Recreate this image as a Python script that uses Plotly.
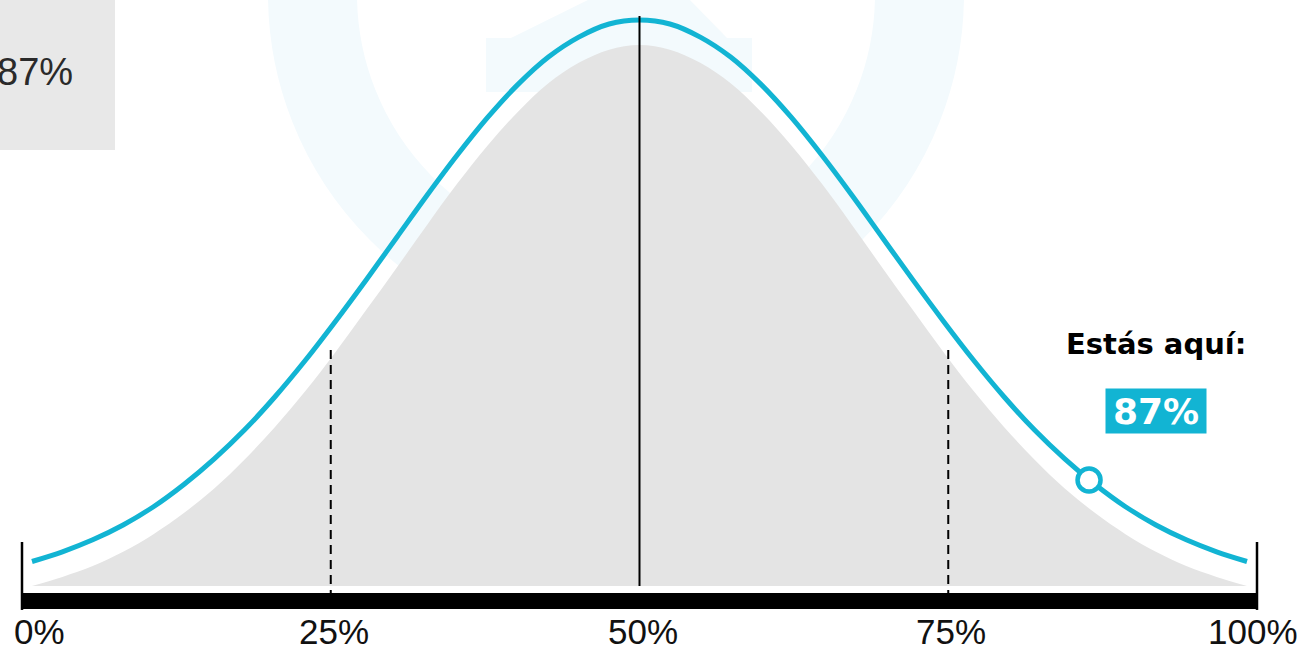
import plotly.graph_objects as go

# ---- data ----
curve_x = [i * 2.5 for i in range(41)]
curve_y = [0.043, 0.060, 0.081, 0.107, 0.139, 0.178, 0.223, 0.274, 0.332, 0.396, 0.465,
           0.537, 0.611, 0.685, 0.756, 0.822, 0.880, 0.928, 0.963, 0.986, 0.993,
           0.986, 0.963, 0.928, 0.880, 0.822, 0.756, 0.685, 0.611, 0.537, 0.465,
           0.396, 0.332, 0.274, 0.223, 0.178, 0.139, 0.107, 0.081, 0.060, 0.043]
fill_y = [0.0, 0.016, 0.035, 0.060, 0.091, 0.128, 0.171, 0.222, 0.279, 0.342, 0.411,
          0.484, 0.558, 0.633, 0.706, 0.773, 0.832, 0.882, 0.918, 0.941, 0.949,
          0.941, 0.918, 0.882, 0.832, 0.773, 0.706, 0.633, 0.558, 0.484, 0.411,
          0.342, 0.279, 0.222, 0.171, 0.128, 0.091, 0.060, 0.035, 0.016, 0.0]
tick_vals = [0, 25, 50, 75, 100]
tick_labels = ["0%", "25%", "50%", "75%", "100%"]
quartiles = [25, 75]
median = 50
you_pct = 87
you_y = 0.186
you_label = "87%"
here_text = "Estás aquí:"

BLUE = "#12b4d3"
WM = "#f3fafd"
W, H = 1305, 650


def px(x):
    return x / W


def py(y):
    return 1 - y / H


fig = go.Figure()

# gray distribution area
fig.add_trace(go.Scatter(x=curve_x, y=fill_y, xaxis="x2", yaxis="y", mode="lines",
                         line=dict(width=0, shape="spline", color="#e4e4e4"),
                         fill="tozeroy", fillcolor="#e4e4e4", hoverinfo="skip"))
# blue curve
fig.add_trace(go.Scatter(x=curve_x, y=curve_y, xaxis="x2", yaxis="y", mode="lines",
                         line=dict(width=5, shape="spline", color=BLUE), hoverinfo="skip"))

shapes = []
# faint watermark (ring + house)
shapes.append(dict(type="circle", xref="paper", yref="paper",
                   x0=px(616 - 303.5), x1=px(616 + 303.5),
                   y0=py(-6 + 303.5), y1=py(-6 - 303.5),
                   line=dict(color=WM, width=89), layer="below"))
shapes.append(dict(type="rect", xref="paper", yref="paper", x0=px(486), x1=px(752),
                   y0=py(92), y1=py(38), fillcolor=WM, line=dict(width=0), layer="below"))
shapes.append(dict(type="path", xref="paper", yref="paper",
                   path=f"M {px(511)} {py(38)} L {px(727)} {py(38)} L {px(685)} {py(-5)} "
                        f"L {px(598)} {py(-5)} Z",
                   fillcolor=WM, line=dict(width=0), layer="below"))
# baseline bar
shapes.append(dict(type="rect", xref="x", yref="y", x0=tick_vals[0], x1=tick_vals[-1],
                   y0=-0.0404, y1=-0.0123, fillcolor="black", line=dict(width=0), layer="above"))
# end ticks
for v in (tick_vals[0], tick_vals[-1]):
    shapes.append(dict(type="line", xref="x", yref="y", x0=v, x1=v, y0=0.0772, y1=-0.042,
                       line=dict(color="black", width=2.5), layer="above"))
# quartile dashed lines
for q in quartiles:
    shapes.append(dict(type="line", xref="x", yref="y", x0=q, x1=q, y0=0.414, y1=-0.013,
                       line=dict(color="black", width=2, dash="9px,6px"), layer="above"))
# median line
shapes.append(dict(type="line", xref="x", yref="y", x0=median, x1=median, y0=1.0, y1=0.0,
                   line=dict(color="black", width=2), layer="above"))
# top-left gray box
shapes.append(dict(type="rect", xref="paper", yref="paper", x0=0, x1=px(115),
                   y0=py(150), y1=1, fillcolor="#e8e8e8", line=dict(width=0), layer="below"))

# marker
fig.add_trace(go.Scatter(x=[you_pct], y=[you_y], xaxis="x2", yaxis="y", mode="markers",
                         marker=dict(size=23, color="white", line=dict(color=BLUE, width=4.5)),
                         hoverinfo="skip"))

annotations = []
n = len(tick_vals)
for i, (v, t) in enumerate(zip(tick_vals, tick_labels)):
    if i == 0:
        anchor, shift = "left", -10
    elif i == n - 1:
        anchor, shift = "right", 43
    else:
        anchor, shift = "center", 3
    annotations.append(dict(x=v, y=-0.0795, xref="x", yref="y", text=t, showarrow=False,
                            xanchor=anchor, yanchor="middle", xshift=shift,
                            font=dict(family="Liberation Sans, Arial", size=35, color="#111111")))

annotations.append(dict(x=px(1155.5), y=py(344), xref="paper", yref="paper",
                        text="<b>" + here_text + "</b>", showarrow=False,
                        xanchor="center", yanchor="middle",
                        font=dict(family="DejaVu Sans", size=29, color="black")))
annotations.append(dict(x=px(1156), y=py(411), xref="paper", yref="paper",
                        text="<b>" + you_label + "</b>", showarrow=False,
                        xanchor="center", yanchor="middle", bgcolor=BLUE,
                        width=92, height=36, borderpad=4,
                        font=dict(family="DejaVu Sans", size=36, color="white")))
annotations.append(dict(x=px(75), y=py(72), xref="paper", yref="paper",
                        text=you_label, showarrow=False, xanchor="right", yanchor="middle",
                        font=dict(family="Liberation Sans, Arial", size=38, color="#2a2a2a")))

axis_common = dict(showgrid=False, zeroline=False, showticklabels=False, showline=False,
                   ticks="", fixedrange=True)
fig.update_layout(
    width=W, height=H,
    margin=dict(l=0, r=0, t=0, b=0),
    paper_bgcolor="white", plot_bgcolor="rgba(0,0,0,0)",
    showlegend=False,
    xaxis=dict(range=[-22 / 12.35, (W - 22) / 12.35], domain=[0, 1], **axis_common),
    xaxis2=dict(range=[-32 / 12.15, (W - 32) / 12.15], overlaying="x", domain=[0, 1],
                **axis_common),
    yaxis=dict(range=[-64 / 570, 586 / 570], domain=[0, 1], **axis_common),
    shapes=shapes,
    annotations=annotations,
)

fig.write_html("out.html", config={"displayModeBar": False},
               post_script="document.body.style.margin='0';document.body.style.overflow='hidden';")
